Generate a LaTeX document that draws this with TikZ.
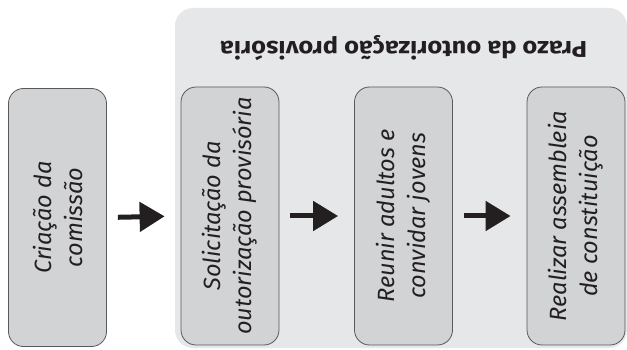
\documentclass[tikz,border=0pt]{standalone}
\usepackage{fontspec}
\usepackage{graphicx}
\setmainfont{Fira Sans}
\usetikzlibrary{arrows.meta}
\definecolor{bgpanel}{HTML}{E6E7E8}
\definecolor{boxfill}{HTML}{D1D3D4}
\definecolor{boxline}{HTML}{58595B}
\definecolor{arrowc}{HTML}{231F20}
\newcommand{\fitline}[2]{\resizebox{#1pt}{\height}{#2}}
\tikzset{
  stepbox/.style={draw=boxline, line width=0.8pt, fill=boxfill, rounded corners=15pt,
    rotate=90, align=center, inner sep=0pt, minimum width=258pt, minimum height=98pt,
    font=\fontsize{23.5}{31}\selectfont\itshape, text=arrowc},
  flowarrow/.style={draw=arrowc, line width=5pt, -{Triangle[length=25pt,width=29pt]}, shorten <=11pt, shorten >=16pt},
}
\begin{document}
\begin{tikzpicture}[x=1pt,y=-1pt]
\useasboundingbox (0,0) rectangle (627,350);
\fill[bgpanel, rounded corners=18pt] (175,8) rectangle (627,348);
\node[rotate=180, font=\fontsize{23}{26}\selectfont\bfseries, text=arrowc] (title) at (403.5,48) {\fitline{367}{Prazo da outorização provisória}};
\node[stepbox] (n1) at (57.5,217.5) {Criação da\\comissão};
\node[stepbox] (n2) at (230,216) {Solicitação da\\outorização provisória};
\node[stepbox] (n3) at (403.5,216) {Reunir adultos e\\convidar jovens};
\node[stepbox] (n4) at (576,216) {Realizar assembleia\\de constituição};
\draw[flowarrow] (n1.south) -- (n2.north);
\draw[flowarrow] (n2.south) -- (n3.north);
\draw[flowarrow] (n3.south) -- (n4.north);
\end{tikzpicture}
\end{document}
